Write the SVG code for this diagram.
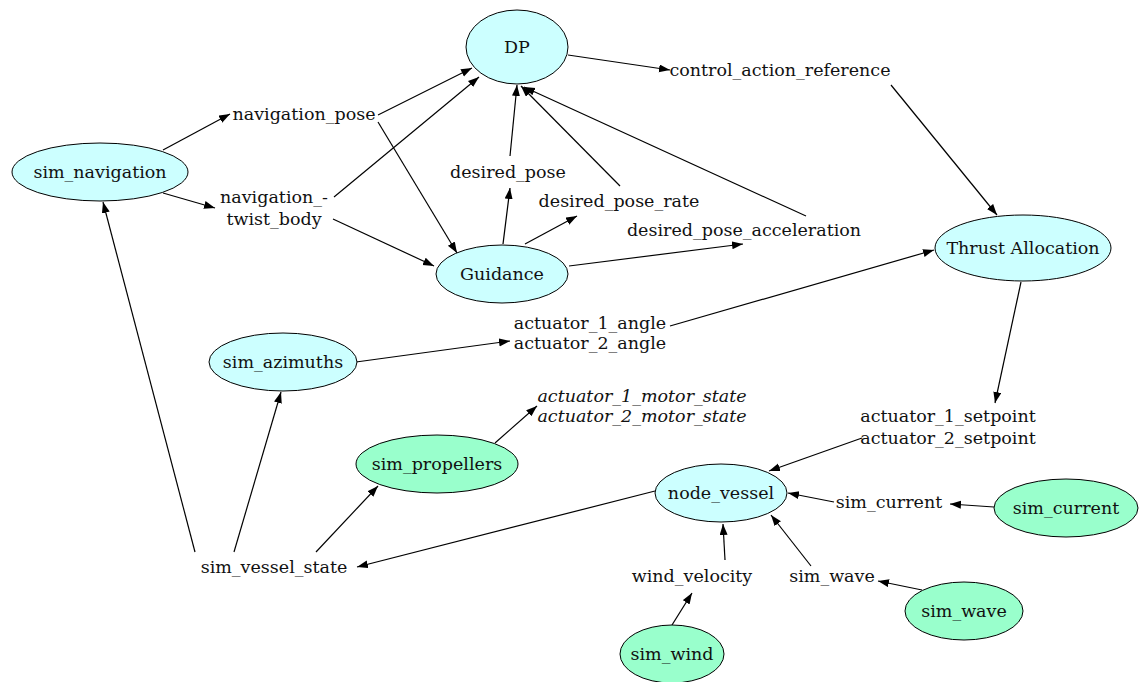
<svg xmlns="http://www.w3.org/2000/svg" width="1142" height="682" viewBox="0 0 1142 682">
<style>
text{font-family:"DejaVu Serif","Liberation Serif",serif;font-size:17.5px;fill:#111;text-anchor:middle;dominant-baseline:central}
.it{font-style:italic}
.n{stroke:#000;stroke-width:1}
.c{fill:#ccffff}
.g{fill:#99ffcc}
#edges line{stroke:#000;stroke-width:1.2;marker-end:url(#ah)}
</style>
<defs>
<marker id="ah" markerUnits="userSpaceOnUse" markerWidth="12" markerHeight="9" refX="11" refY="4" orient="auto">
<path d="M0,0 L11,4 L0,8 z" fill="#000"/>
</marker>
</defs>
<rect width="1142" height="682" fill="#fff"/>
<g id="edges">
<line x1="568" y1="55" x2="670" y2="70"/>
<line x1="891" y1="85" x2="997" y2="215"/>
<line x1="163" y1="150" x2="230" y2="114"/>
<line x1="163" y1="193" x2="215" y2="208"/>
<line x1="378" y1="115" x2="472" y2="68"/>
<line x1="378" y1="122" x2="457" y2="253"/>
<line x1="334" y1="197" x2="479" y2="77"/>
<line x1="333" y1="219" x2="434" y2="266"/>
<line x1="503" y1="244" x2="510" y2="188"/>
<line x1="510" y1="156" x2="517" y2="85"/>
<line x1="525" y1="244" x2="577" y2="216"/>
<line x1="620" y1="186" x2="521" y2="86"/>
<line x1="806" y1="216" x2="524" y2="87"/>
<line x1="569" y1="266" x2="743" y2="244"/>
<line x1="670" y1="326" x2="934" y2="250"/>
<line x1="356" y1="362" x2="510" y2="341"/>
<line x1="1021" y1="282" x2="995" y2="403"/>
<line x1="862" y1="438" x2="769" y2="471"/>
<line x1="495" y1="443" x2="537" y2="406"/>
<line x1="655" y1="491" x2="357" y2="567"/>
<line x1="195" y1="552" x2="103" y2="202"/>
<line x1="234" y1="552" x2="281" y2="392"/>
<line x1="316" y1="552" x2="378" y2="486"/>
<line x1="994" y1="507" x2="950" y2="504"/>
<line x1="834" y1="502" x2="788" y2="493"/>
<line x1="725" y1="560" x2="723" y2="524"/>
<line x1="672" y1="625" x2="692" y2="593"/>
<line x1="811" y1="566" x2="771" y2="515"/>
<line x1="922" y1="590" x2="878" y2="581"/>
</g>
<g id="DP"><ellipse class="n c" cx="517" cy="47" rx="51" ry="37"/><text x="517" y="47">DP</text></g>
<g id="control_action_reference"><text x="780" y="70">control_action_reference</text></g>
<g id="sim_navigation"><ellipse class="n c" cx="100" cy="172" rx="88" ry="29"/><text x="100" y="172">sim_navigation</text></g>
<g id="navigation_pose"><text x="304" y="114">navigation_pose</text></g>
<g id="navigation_twist_body"><text x="274" y="197">navigation_-</text><text x="274" y="219">twist_body</text></g>
<g id="desired_pose"><text x="508" y="172">desired_pose</text></g>
<g id="desired_pose_rate"><text x="619" y="201">desired_pose_rate</text></g>
<g id="desired_pose_acceleration"><text x="744" y="230">desired_pose_acceleration</text></g>
<g id="Guidance"><ellipse class="n c" cx="502" cy="274" rx="66" ry="29"/><text x="502" y="274">Guidance</text></g>
<g id="Thrust_Allocation"><ellipse class="n c" cx="1023" cy="248" rx="88" ry="33"/><text x="1023" y="248">Thrust Allocation</text></g>
<g id="actuator_angle"><text x="590" y="323">actuator_1_angle</text><text x="590" y="343">actuator_2_angle</text></g>
<g id="sim_azimuths"><ellipse class="n c" cx="283" cy="362" rx="74" ry="29"/><text x="283" y="362">sim_azimuths</text></g>
<g id="actuator_motor_state"><text class="it" x="642" y="396">actuator_1_motor_state</text><text class="it" x="642" y="416">actuator_2_motor_state</text></g>
<g id="actuator_setpoint"><text x="948" y="416">actuator_1_setpoint</text><text x="948" y="438">actuator_2_setpoint</text></g>
<g id="sim_propellers"><ellipse class="n g" cx="437" cy="464" rx="81" ry="29"/><text x="437" y="464">sim_propellers</text></g>
<g id="node_vessel"><ellipse class="n c" cx="721" cy="493" rx="66" ry="29"/><text x="721" y="493">node_vessel</text></g>
<g id="sim_current_topic"><text x="889" y="502">sim_current</text></g>
<g id="sim_current"><ellipse class="n g" cx="1066" cy="508" rx="72" ry="29"/><text x="1066" y="508">sim_current</text></g>
<g id="sim_vessel_state"><text x="274" y="567">sim_vessel_state</text></g>
<g id="wind_velocity"><text x="692" y="576">wind_velocity</text></g>
<g id="sim_wave_topic"><text x="832" y="576">sim_wave</text></g>
<g id="sim_wave"><ellipse class="n g" cx="964" cy="611" rx="59" ry="29"/><text x="964" y="611">sim_wave</text></g>
<g id="sim_wind"><ellipse class="n g" cx="672" cy="654" rx="52" ry="29"/><text x="672" y="654">sim_wind</text></g>
</svg>
